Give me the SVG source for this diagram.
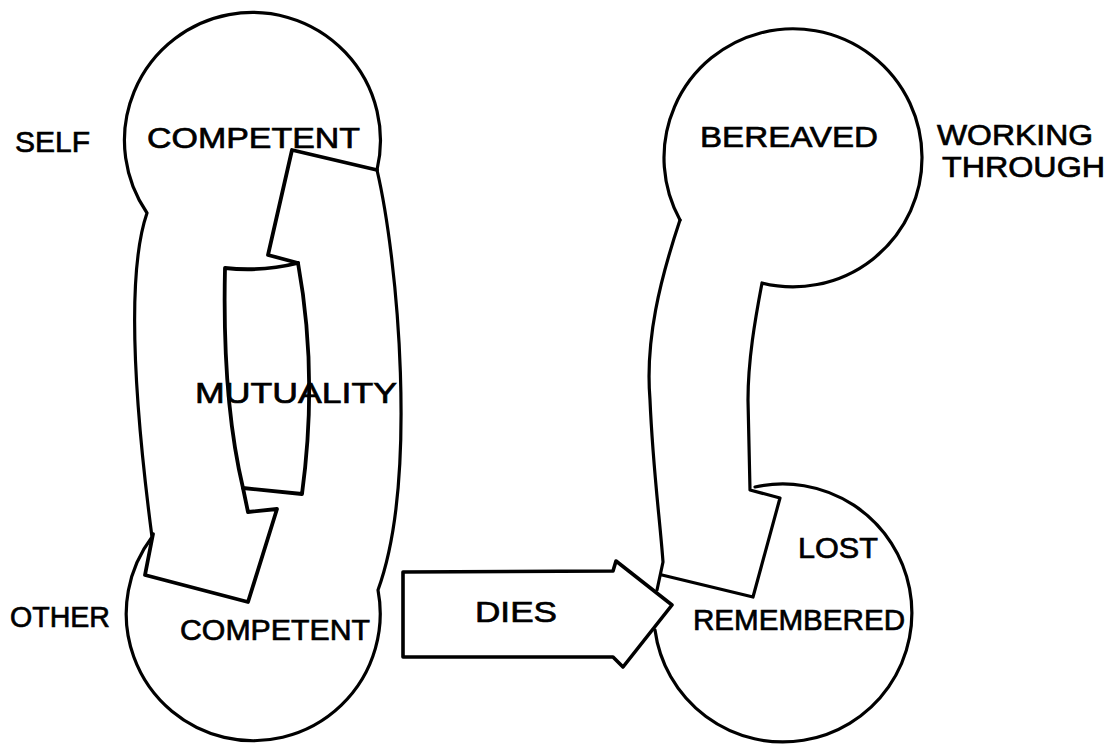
<svg xmlns="http://www.w3.org/2000/svg" width="1109" height="744" viewBox="0 0 1109 744">
<style>
.o{fill:none;stroke:#000;stroke-width:3.2;stroke-linejoin:round;stroke-linecap:round}
.t{stroke-width:3.8}
.a{fill:#fff;stroke:#000;stroke-width:3.6;stroke-linejoin:round}
text{font-family:"Liberation Sans",Arial,sans-serif;font-size:30px;fill:#000;stroke:#000;stroke-width:0.7}
</style>
<rect width="1109" height="744" fill="#fff"/>
<g id="labels-outer">
<text x="15" y="152" textLength="75" lengthAdjust="spacingAndGlyphs">SELF</text>
<text x="10" y="627" textLength="100" lengthAdjust="spacingAndGlyphs">OTHER</text>
<text x="937" y="145" textLength="156" lengthAdjust="spacingAndGlyphs">WORKING</text>
<text x="942" y="177" textLength="163" lengthAdjust="spacingAndGlyphs">THROUGH</text>
</g>
<g id="self-other">
<path class="o" d="M147,213 A128,128 0 1 1 377,170 C398,260 418,480 378,590 A127,127 0 1 1 152,537 C138,430 124,280 147,213"/>
<path class="o t" d="M377,170 L292,150 L268,255 L298,263"/>
<path class="o t" d="M225,268 Q262,272 298,263 C312,340 312,420 302,494 L243,488 Q222,400 225,268"/>
<path class="o t" d="M243,488 L248,512 L277,509 L248,602 L145,575 L153,534"/>
<text x="147" y="148" textLength="213" lengthAdjust="spacingAndGlyphs">COMPETENT</text>
<text x="195" y="403" textLength="202" lengthAdjust="spacingAndGlyphs">MUTUALITY</text>
<text x="180" y="640" textLength="190" lengthAdjust="spacingAndGlyphs">COMPETENT</text>
</g>
<g id="bereaved">
<path class="o" d="M680,220 A129,129 0 1 1 762,283 C755,320 748,360 748,400 L750,490 L780,498 L753,597 L662,575"/>
<path class="o" d="M680,220 C660,280 645,340 650,400 C653,470 660,520 663,562 L657,590"/>
<path class="o" d="M755,487 A129,129 0 1 1 655,630"/>
<text x="700" y="147" textLength="178" lengthAdjust="spacingAndGlyphs">BEREAVED</text>
<text x="798" y="558" font-size="32" textLength="80" lengthAdjust="spacingAndGlyphs">LOST</text>
<text x="693" y="630" textLength="212" lengthAdjust="spacingAndGlyphs">REMEMBERED</text>
</g>
<g id="connectors">
<path class="a" d="M403,572 L613,571 L616,561 L672,605 L623,667 L613,657 L403,657 Z"/>
<text x="475" y="622" textLength="82" lengthAdjust="spacingAndGlyphs">DIES</text>
</g>
</svg>
